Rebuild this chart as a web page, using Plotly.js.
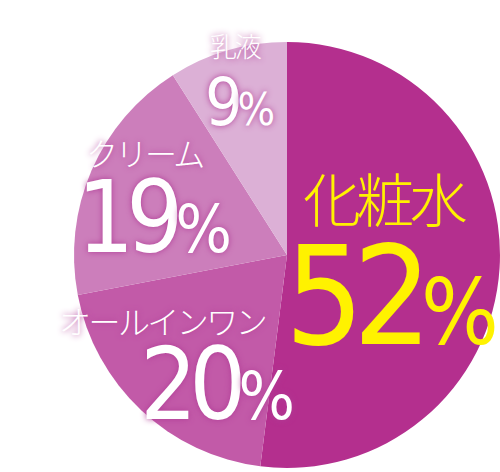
<!DOCTYPE html>
<html>
<head>
<meta charset="utf-8">
<script src="https://cdn.plot.ly/plotly-3.0.1.min.js"></script>
<style>
  html, body { margin: 0; padding: 0; background: #fff; }
  #chart { width: 500px; height: 472px; }
  .annotation-text { letter-spacing: -0.08em; }
</style>
</head>
<body>
<div id="chart"></div>
<script>
// share of skin-care items (clockwise from 12 o'clock)
var categories = ['化粧水', 'オールインワン', 'クリーム', '乳液'];
var shares = [52, 20, 19, 9];
var sliceColors = ['#b42f8e', '#c25aa8', '#cc7ebb', '#dcb0d6'];

// label placement in paper coords (name line, value line)
var namePos = [[0.77, 0.583], [0.325, 0.322], [0.288, 0.678], [0.472, 0.903]];
var valuePos = [[0.566, 0.196], [0.276, 0.058], [0.15, 0.411], [0.406, 0.697]];
var nameSizes = [58, 32, 32, 27];
var valueSizes = [138, 100, 100, 66];
var textColors = ['#fff200', '#ffffff', '#ffffff', '#ffffff'];
var glow = ['none', '0 0 6px #b03c96', '0 0 6px #b03c96', '0 0 6px #b03c96'];

var annotations = [];
for(var i = 0; i < categories.length; i++)
{
    annotations.push({
        text: categories[i],
        x: namePos[i][0], y: namePos[i][1],
        xref: 'paper', yref: 'paper',
        xanchor: 'center', yanchor: 'middle',
        showarrow: false,
        font: {family: '"Noto Sans CJK JP", sans-serif', size: nameSizes[i], color: textColors[i], weight: 300, shadow: glow[i]}
    });
    annotations.push({
        text: shares[i] + '<span style="font-size:' + Math.round(valueSizes[i] * 0.66) + 'px">%</span>',
        x: valuePos[i][0], y: valuePos[i][1],
        xref: 'paper', yref: 'paper',
        xanchor: 'left', yanchor: 'bottom',
        showarrow: false,
        font: {family: '"Liberation Sans Narrow", "DejaVu Sans Condensed", Lato, sans-serif', size: valueSizes[i], color: textColors[i], shadow: glow[i]}
    });
}

var plotlyData = [
    {
        type: 'pie',
        labels: categories,
        values: shares,
        sort: false,
        direction: 'clockwise',
        rotation: 0,
        textinfo: 'none',
        hoverinfo: 'label+percent',
        marker: {colors: sliceColors, line: {width: 0}},
        domain: {x: [0.148, 1.0], y: [0.0085, 0.911]}
    }
];

var plotlyLayout = {
    width: 500,
    height: 472,
    margin: {l: 0, r: 0, t: 0, b: 0},
    paper_bgcolor: '#ffffff',
    showlegend: false,
    annotations: annotations
};

Plotly.newPlot('chart', plotlyData, plotlyLayout, {displayModeBar: false, staticPlot: true});
</script>
</body>
</html>
